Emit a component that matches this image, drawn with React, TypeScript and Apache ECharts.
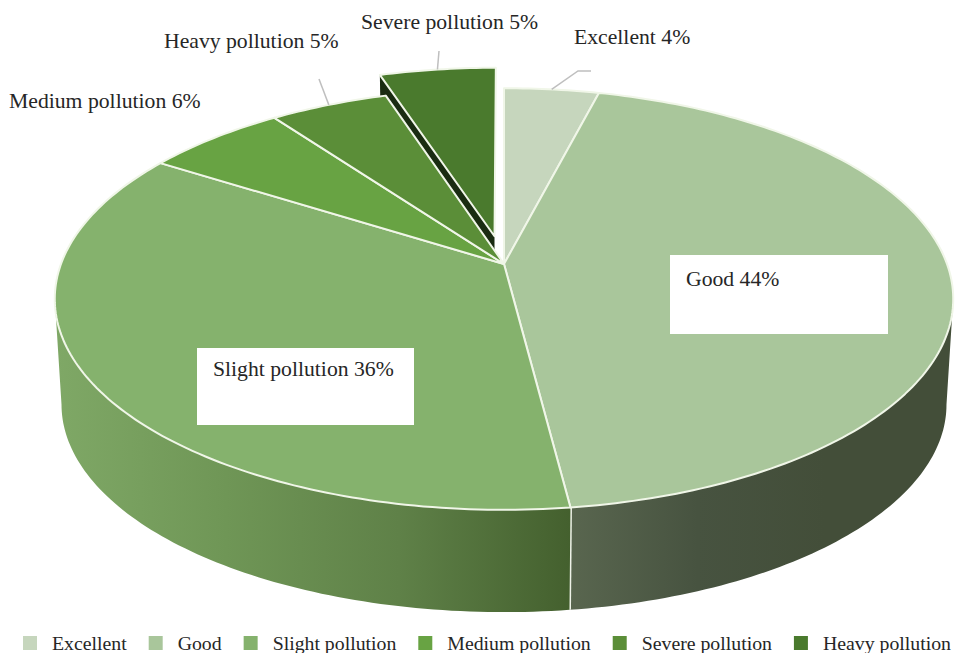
import React, { useEffect, useRef } from "react";
import * as echarts from "echarts";

// Legend entries and slice values, clockwise from twelve o'clock.
const categories = ["Excellent", "Good", "Slight pollution", "Medium pollution", "Severe pollution", "Heavy pollution"];
const values = [4, 44, 36, 6, 5, 5];
const sliceLabels = ["Excellent 4%", "Good 44%", "Slight pollution 36%", "Medium pollution 6%", "Heavy pollution 5%", "Severe pollution 5%"];
const colors = ["#c6d6bd", "#a9c69b", "#85b26d", "#68a343", "#5b8e38", "#4a7a2d"];
const explode = [0, 0, 0, 0, 0, 0.14];

// Side-wall shading for each slice, left to right.
const wallStops = [
  ["#8a9a80", "#8a9a80"],
  ["#59664f", "#475340", "#434e39", "#434e39"],
  ["#7fa866", "#6f9656", "#5f8148", "#44602e"],
  ["#55803a", "#55803a"],
  ["#4a7430", "#4a7430"],
  ["#1a2c12", "#1a2c12"],
];

const FONT = "Liberation Serif";
const INK = "#262626";

// Perspective view of the pie disc.
const view = { cx: 504, cy: 264, a: 443, b: 205, p: 0.166 };
const base = { scale: 0.985, drop: 106 };

// The wall is only seen between the two points where the rim turns back.
const frontStart = Math.acos(-view.p);
const frontEnd = Math.PI * 2 - frontStart;

const total = values.reduce((s, v) => s + v, 0);
function sliceAngles(i: number) {
  const before = values.slice(0, i).reduce((s, v) => s + v, 0);
  return {
    start: (before / total) * Math.PI * 2,
    end: ((before + values[i]) / total) * Math.PI * 2,
  };
}

function project(theta: number, r: number, i: number): [number, number] {
  const { start, end } = sliceAngles(i);
  const mid = (start + end) / 2;
  const X = r * Math.sin(theta) + explode[i] * Math.sin(mid);
  const Y = -(r * Math.cos(theta) + explode[i] * Math.cos(mid));
  const den = 1 - view.p * Y;
  return [view.cx + (view.a * X) / den, view.cy + (view.b * Y) / den];
}

const lower = ([x, y]: [number, number]): [number, number] => [
  view.cx + (x - view.cx) * base.scale,
  view.cy + base.drop + (y - view.cy) * base.scale,
];

function arcPoints(i: number, from: number, to: number) {
  const n = Math.max(2, Math.ceil(((to - from) * 180) / Math.PI));
  const pts: [number, number][] = [];
  for (let k = 0; k <= n; k++) pts.push(project(from + ((to - from) * k) / n, 1, i));
  return pts;
}

// Callout placement: white plate, text anchor and leader elbow.
const plates: Record<number, { x: number; y: number; w: number; h: number }> = {
  1: { x: 670, y: 255, w: 218, h: 79 },
  2: { x: 197, y: 348, w: 217, h: 77 },
};
const labelAnchors: [number, number][] = [
  [574, 37],
  [686, 279],
  [213, 369],
  [9, 101],
  [164, 41],
  [361, 22],
];
const leaders: Record<number, [number, number][]> = {
  0: [[578, 71], [591, 71]],
  4: [[319, 79]],
  5: [[439, 51]],
};

function renderWall(params: any) {
  const i = params.dataIndex;
  const { start, end } = sliceAngles(i);
  const stops = wallStops[i];
  const children: any[] = [];
  const from = Math.max(start, frontStart);
  const to = Math.min(end, frontEnd);
  if (to > from) {
    const rim = arcPoints(i, from, to);
    children.push({
      type: "polygon",
      shape: { points: [...rim, ...rim.map(lower).reverse()] },
      style: {
        fill: new echarts.graphic.LinearGradient(
          0, 0, 1, 0,
          stops.map((color, k) => ({ offset: k / (stops.length - 1), color }))
        ),
      },
    });
  }
  if (explode[i] > 0) {
    // Cut face of a pulled-out slice.
    const hub = project(start, 0, i);
    const edge = project(start, 1, i);
    children.push({
      type: "polygon",
      shape: { points: [hub, edge, lower(edge), lower(hub)] },
      style: { fill: stops[0] },
    });
  }
  // Seam between the two front walls.
  if (i === 1) {
    const p = project(end, 1, i);
    const q = lower(p);
    children.push({
      type: "line",
      shape: { x1: p[0], y1: p[1], x2: q[0], y2: q[1] },
      style: { stroke: "#eef2e8", lineWidth: 3 },
    });
  }
  return { type: "group", children };
}

function renderTop(i: number) {
  return (_params: any, api: any) => {
    const { start, end } = sliceAngles(i);
    return {
      type: "polygon",
      shape: { points: [project(start, 0, i), ...arcPoints(i, start, end)] },
      style: { fill: api.visual("color"), stroke: "#f0f6e8", lineWidth: 2, lineJoin: "round" },
    };
  };
}

function renderLabel(params: any) {
  const i = params.dataIndex;
  const children: any[] = [];
  const plate = plates[i];
  if (plate) {
    children.push({
      type: "rect",
      shape: { x: plate.x, y: plate.y, width: plate.w, height: plate.h },
      style: { fill: "#ffffff" },
    });
  }
  const leader = leaders[i];
  if (leader) {
    const { start, end } = sliceAngles(i);
    const rimPoint = project((start + end) / 2, 1, i);
    children.push({
      type: "polyline",
      shape: { points: [rimPoint, ...leader] },
      style: { stroke: "#bfbfbf", lineWidth: 1.5, fill: "none" },
    });
  }
  children.push({
    type: "text",
    style: {
      x: labelAnchors[i][0],
      y: labelAnchors[i][1],
      text: sliceLabels[i],
      fill: INK,
      font: `21.7px "${FONT}"`,
      textVerticalAlign: "middle",
    },
  });
  return { type: "group", children };
}

export default function App() {
  const ref = useRef<HTMLDivElement>(null);

  useEffect(() => {
    const chart = echarts.init(ref.current!, undefined, { renderer: "svg" });
    chart.setOption({
      animation: false,
      backgroundColor: "#ffffff",
      legend: {
        data: categories,
        left: 23,
        top: 633,
        width: 1000,
        padding: 0,
        icon: "rect",
        itemWidth: 14,
        itemHeight: 14,
        itemGap: 22,
        selectedMode: false,
        textStyle: { fontFamily: FONT, fontSize: 19.8, color: INK, padding: [0, 0, 0, 10] },
      },
      series: [
        {
          type: "custom",
          coordinateSystem: "none",
          silent: true,
          z: 1,
          data: values,
          renderItem: renderWall,
        },
        ...categories.map((name, i) => ({
          type: "custom",
          name,
          coordinateSystem: "none",
          silent: true,
          z: 2,
          itemStyle: { color: colors[i] },
          data: [values[i]],
          renderItem: renderTop(i),
        })),
        {
          type: "custom",
          coordinateSystem: "none",
          silent: true,
          z: 3,
          data: values,
          renderItem: renderLabel,
        },
      ],
    });
    return () => chart.dispose();
  }, []);

  return <div ref={ref} style={{ position: "fixed", left: 0, top: 0, width: 955, height: 653 }} />;
}
